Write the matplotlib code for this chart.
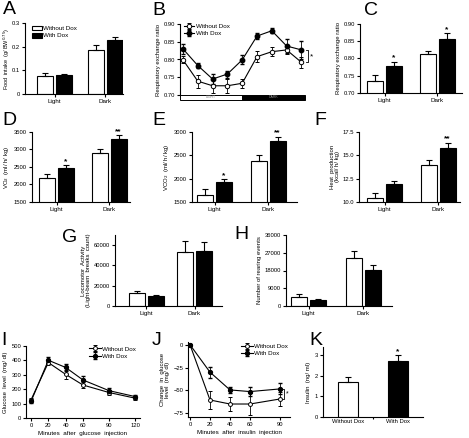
"""Metabolic phenotype panels A-K (Without Dox vs With Dox)"""

import matplotlib
matplotlib.use('Agg')
import matplotlib.pyplot as plt
from matplotlib.patches import Rectangle
import numpy as np

plt.rcParams['font.family'] = ['Liberation Sans', 'DejaVu Sans']
plt.rcParams['axes.linewidth'] = 0.8
plt.rcParams['xtick.major.width'] = 0.8
plt.rcParams['ytick.major.width'] = 0.8
plt.rcParams['xtick.major.size'] = 2
plt.rcParams['ytick.major.size'] = 2
plt.rcParams['xtick.labelsize'] = 4.2
plt.rcParams['ytick.labelsize'] = 4.2
plt.rcParams['xtick.major.pad'] = 1.5
plt.rcParams['ytick.major.pad'] = 1.5

groups = ['Light', 'Dark']
series = ['Without Dox', 'With Dox']

# A food intake
a_without = [0.078, 0.185]
a_without_err = [0.010, 0.020]
a_with = [0.080, 0.228]
a_with_err = [0.003, 0.012]

# B RER time course
b_without = [0.799, 0.739, 0.726, 0.726, 0.733, 0.808, 0.822, 0.827, 0.792]
b_without_err = [0.010, 0.018, 0.020, 0.020, 0.012, 0.015, 0.012, 0.012, 0.015]
b_with = [0.830, 0.783, 0.745, 0.759, 0.799, 0.866, 0.881, 0.838, 0.827]
b_with_err = [0.015, 0.008, 0.015, 0.010, 0.013, 0.008, 0.007, 0.020, 0.025]

# C RER light/dark
c_without = [0.734, 0.812]
c_without_err = [0.018, 0.010]
c_with = [0.777, 0.857]
c_with_err = [0.014, 0.016]
c_stars = ['*', '*']

# D VO2
d_without = [2186, 2910]
d_without_err = [124, 95]
d_with = [2481, 3310]
d_with_err = [67, 95]
d_stars = ['*', '**']

# E VCO2
e_without = [1643, 2379]
e_without_err = [128, 121]
e_with = [1929, 2807]
e_with_err = [57, 86]
e_stars = ['*', '**']

# F heat production
f_without = [10.46, 14.0]
f_without_err = [0.54, 0.5]
f_with = [11.89, 15.82]
f_with_err = [0.31, 0.54]
f_stars = ['', '**']

# G locomotor activity
g_without = [12460, 53440]
g_without_err = [2620, 10820]
g_with = [9840, 54430]
g_with_err = [980, 8200]

# H rearing events
h_without = [4730, 24170]
h_without_err = [1350, 3890]
h_with = [3040, 18250]
h_with_err = [340, 2540]

# I glucose tolerance
i_minutes = [0, 20, 40, 60, 90, 120]
i_without = [126, 385, 303, 229, 177, 138]
i_without_err = [10, 15, 30, 20, 15, 10]
i_with = [115, 401, 351, 264, 190, 149]
i_with_err = [10, 20, 25, 30, 15, 10]

# J insulin tolerance
j_minutes = [0, 20, 40, 60, 90]
j_without = [0, -60.4, -64.8, -64.8, -59.3]
j_without_err = [0, 10, 8, 12, 8]
j_with = [0, -30, -49.4, -51.2, -48.3]
j_with_err = [0, 6, 3, 5, 6]

# K insulin
k_values = [1.68, 2.70]
k_err = [0.24, 0.32]

W, H = 469, 438
fig = plt.figure(figsize=(W / 100, H / 100), dpi=100)


def add_ax(l, t, r, b):
    ax = fig.add_axes([l / W, 1 - b / H, (r - l) / W, (b - t) / H])
    ax.spines['top'].set_visible(False)
    ax.spines['right'].set_visible(False)
    return ax


def letter(x, y, s):
    fig.text(x / W, 1 - y / H, s, fontsize=14, va='top', ha='left', zorder=10)


def bar_panel(ax, c0, c1, axl, axr, wo, wo_err, wi, wi_err, ylim, yticks, yticklabels, stars=None, bw=16):
    unit = c1 - c0
    width = bw / unit
    off = (bw / 2 + 1.5) / unit
    x = np.arange(2)
    ax.bar(x - off, wo, width, color='white', edgecolor='black', linewidth=0.8,
           yerr=[np.zeros(2), wo_err], error_kw=dict(elinewidth=0.8, capsize=2.2, capthick=0.8))
    ax.bar(x + off, wi, width, color='black', edgecolor='black', linewidth=0.8,
           yerr=[np.zeros(2), wi_err], error_kw=dict(elinewidth=0.8, capsize=2.2, capthick=0.8))
    ax.set_xlim((axl - c0) / unit, (axr - c0) / unit)
    ax.set_ylim(*ylim)
    ax.set_yticks(yticks)
    ax.set_yticklabels(yticklabels)
    ax.set_xticks(x)
    ax.set_xticklabels(groups, fontsize=4.5)
    if stars:
        span = ylim[1] - ylim[0]
        for i, s in enumerate(stars):
            if s:
                ax.text(x[i] + off, wi[i] + wi_err[i] + span * 0.005, s, ha='center',
                        va='bottom', fontsize=6, fontweight='bold')


# ---- A
ax = add_ax(25, 23, 123, 94)
bar_panel(ax, 54.5, 105, 25, 123, a_without, a_without_err, a_with, a_with_err,
          (0, 0.3), [0, 0.1, 0.2, 0.3], ['0', '0.1', '0.2', '0.3'])
ax.set_ylabel('Food  intake  (g/ BW$^{0.75}$)', fontsize=4.0)
ax.yaxis.set_label_coords(-0.13, 0.5)
ax.add_patch(Rectangle((0.07, 0.895), 0.1, 0.06, transform=ax.transAxes, facecolor='white',
                       edgecolor='black', linewidth=0.8, clip_on=False))
ax.add_patch(Rectangle((0.07, 0.795), 0.1, 0.06, transform=ax.transAxes, facecolor='black',
                       edgecolor='black', linewidth=0.8, clip_on=False))
ax.text(0.18, 0.925, series[0], transform=ax.transAxes, fontsize=4.5, va='center')
ax.text(0.18, 0.825, series[1], transform=ax.transAxes, fontsize=4.5, va='center')
letter(3, 1, 'A')

# ---- B
ax = add_ax(180, 24, 305, 95)
bx = np.arange(len(b_without))
ax.errorbar(bx, b_without, yerr=b_without_err, color='black', lw=0.8, marker='o', ms=3.2,
            mfc='white', mec='black', mew=0.7, capsize=1.5, elinewidth=0.6, label=series[0], zorder=3)
ax.errorbar(bx, b_with, yerr=b_with_err, color='black', lw=0.8, marker='o', ms=3.2,
            mfc='black', mec='black', capsize=1.5, elinewidth=0.6, label=series[1], zorder=3)
ax.set_xlim(-0.2, 8.24)
ax.set_ylim(0.70, 0.90)
ax.set_yticks([0.70, 0.75, 0.80, 0.85, 0.90])
ax.set_yticklabels(['0.70', '0.75', '0.80', '0.85', '0.90'])
ax.set_xticks([])
ax.spines['bottom'].set_visible(False)
ax.set_ylabel('Respiratory exchange ratio', fontsize=4.3, labelpad=2)
tr = ax.get_xaxis_transform()
ax.add_patch(Rectangle((-0.2, -0.07), 4.2, 0.07, transform=tr, facecolor='white',
                       edgecolor='black', linewidth=0.7, clip_on=False))
ax.add_patch(Rectangle((4.0, -0.07), 4.24, 0.07, transform=tr, facecolor='black',
                       edgecolor='black', linewidth=0.7, clip_on=False))
ax.text(1.9, -0.035, 'LIGHT', transform=tr, fontsize=2.5, color='#888888', ha='center', va='center')
ax.text(6.1, -0.035, 'DARK', transform=tr, fontsize=2.5, color='#888888', ha='center', va='center')
ax.plot([8.3, 8.45, 8.45, 8.3], [0.792, 0.792, 0.827, 0.827], color='black', lw=0.6, clip_on=False)
ax.text(8.6, 0.806, '*', fontsize=6, va='center', ha='left')
ax.legend(loc='upper left', bbox_to_anchor=(0.0, 1.06), frameon=False, fontsize=4.5,
          handlelength=1.6, handletextpad=0.3, labelspacing=0.3, borderaxespad=0.2)
letter(152, 2, 'B')

# ---- C
ax = add_ax(360, 24, 462, 93)
bar_panel(ax, 384.5, 437, 360, 462, c_without, c_without_err, c_with, c_with_err,
          (0.70, 0.90), [0.70, 0.75, 0.80, 0.85, 0.90], ['0.70', '0.75', '0.80', '0.85', '0.90'],
          stars=c_stars)
ax.set_ylabel('Respiratory exchange ratio', fontsize=4.3, labelpad=2)
letter(364, 2, 'C')

# ---- D
ax = add_ax(32, 132, 130, 202)
bar_panel(ax, 56.5, 109, 32, 130, d_without, d_without_err, d_with, d_with_err,
          (1500, 3500), [1500, 2000, 2500, 3000, 3500],
          ['1500', '2000', '2500', '3000', '3500'], stars=d_stars)
ax.set_ylabel('VO$_2$  (ml/ h/ kg)', fontsize=4.3, labelpad=2)
letter(2, 112, 'D')

# ---- E
ax = add_ax(192, 132, 297, 202)
bar_panel(ax, 214.5, 268, 192, 297, e_without, e_without_err, e_with, e_with_err,
          (1500, 3000), [1500, 2000, 2500, 3000],
          ['1500', '2000', '2500', '3000'], stars=e_stars)
ax.set_ylabel('VCO$_2$  (ml/ h/ kg)', fontsize=4.3, labelpad=2)
letter(152, 112, 'E')

# ---- F
ax = add_ax(359, 132, 460, 202)
bar_panel(ax, 384.5, 438, 359, 460, f_without, f_without_err, f_with, f_with_err,
          (10, 17.5), [10, 12.5, 15, 17.5], ['10.0', '12.5', '15.0', '17.5'], stars=f_stars)
ax.set_ylabel('Heat  production\n(kcal/ h/ kg)', fontsize=4.3, labelpad=2, linespacing=1.0)
letter(314, 112, 'F')

# ---- G
ax = add_ax(115, 235, 222, 306)
bar_panel(ax, 146, 194.5, 115, 222, g_without, g_without_err, g_with, g_with_err,
          (0, 70000), [0, 20000, 40000, 60000], ['0', '20000', '40000', '60000'])
ax.set_ylabel('Locomotor  Activity\n(Light-beam  breaks  count)', fontsize=4.3, labelpad=2,
              linespacing=1.0)
letter(62, 229, 'G')

# ---- H
ax = add_ax(286, 235, 392, 306)
bar_panel(ax, 308.5, 363, 286, 392, h_without, h_without_err, h_with, h_with_err,
          (0, 36000), [0, 9000, 18000, 27000, 36000], ['0', '9000', '18000', '27000', '36000'])
ax.set_ylabel('Number of rearing events', fontsize=4.3, labelpad=2)
letter(234, 226, 'H')

# ---- I
ax = add_ax(26, 346, 140, 418)
ax.errorbar(i_minutes, i_without, yerr=i_without_err, color='black', lw=0.8, marker='o', ms=2.8,
            mfc='white', mec='black', mew=0.7, capsize=1.5, elinewidth=0.6, label=series[0], zorder=3)
ax.errorbar(i_minutes, i_with, yerr=i_with_err, color='black', lw=0.8, marker='o', ms=2.8,
            mfc='black', mec='black', capsize=1.5, elinewidth=0.6, label=series[1], zorder=3)
ax.set_xlim(-5.8, 125.8)
ax.set_ylim(0, 500)
ax.set_xticks(i_minutes)
ax.set_yticks([0, 100, 200, 300, 400, 500])
ax.set_xlabel('Minutes  after  glucose  injection', fontsize=4.5, labelpad=2)
ax.set_ylabel('Glucose  level  (mg/ dl)', fontsize=4.3, labelpad=2)
ax.legend(loc='upper right', bbox_to_anchor=(1.0, 1.05), frameon=False, fontsize=4.5,
          handlelength=1.8, handletextpad=0.3, labelspacing=0.3, borderaxespad=0.2)
letter(1, 332, 'I')

# ---- J
ax = add_ax(188, 342, 290, 417)
ax.errorbar(j_minutes, j_without, yerr=j_without_err, color='black', lw=0.8, marker='o', ms=2.8,
            mfc='white', mec='black', mew=0.7, capsize=1.5, elinewidth=0.6, label=series[0], zorder=3)
ax.errorbar(j_minutes, j_with, yerr=j_with_err, color='black', lw=0.8, marker='o', ms=2.8,
            mfc='black', mec='black', capsize=1.5, elinewidth=0.6, label=series[1], zorder=3)
ax.set_xlim(-2, 100)
ax.set_ylim(-79, 3)
ax.set_xticks(j_minutes)
ax.set_yticks([-75, -50, -25, 0])
ax.set_xlabel('Minutes  after  insulin  injection', fontsize=4.5, labelpad=2)
ax.set_ylabel('Change  in  glucose\nlevel  (mg/ dl)', fontsize=4.3, labelpad=2, linespacing=1.0)
ax.plot([92, 94, 94, 92], [-48.3, -48.3, -59.3, -59.3], color='black', lw=0.6, clip_on=False)
ax.text(96, -54, '*', fontsize=5, va='center', ha='left')
ax.legend(loc='upper right', bbox_to_anchor=(1.02, 1.03), frameon=False, fontsize=4.5,
          handlelength=1.8, handletextpad=0.3, labelspacing=0.3, borderaxespad=0.2)
letter(152, 332, 'J')

# ---- K
ax = add_ax(323, 347, 423, 417)
kx = np.arange(2)
ax.bar(kx, k_values, 0.4, color=['white', 'black'], edgecolor='black', linewidth=0.8,
       yerr=[np.zeros(2), k_err], error_kw=dict(elinewidth=0.8, capsize=2.2, capthick=0.8))
ax.set_xlim(-0.5, 1.5)
ax.set_ylim(0, 3.4)
ax.set_yticks([0, 1, 2, 3])
ax.set_xticks(kx)
ax.set_xticklabels(series, fontsize=4.2)
ax.tick_params(axis='x', length=0)
ax.set_xticks([0.5], minor=True)
ax.tick_params(axis='x', which='minor', length=1.5, width=0.8)
ax.text(1, k_values[1] + k_err[1], '*', ha='center', va='bottom', fontsize=6, fontweight='bold')
ax.set_ylabel('Insulin  (ng/ ml)', fontsize=4.3, labelpad=3)
letter(309, 332, 'K')

fig.savefig('out.png', dpi=100)
